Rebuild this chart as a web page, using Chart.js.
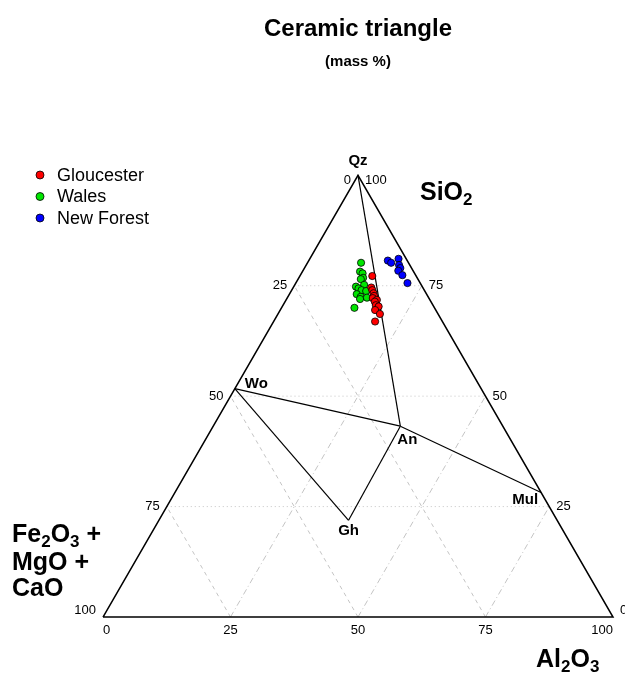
<!DOCTYPE html>
<html>
<head>
<meta charset="utf-8">
<script src="https://cdn.jsdelivr.net/npm/chart.js@4.4.0/dist/chart.umd.min.js"></script>
<style>
  body { margin: 0; background: #fff; }
  canvas { display: block; }
</style>
</head>
<body>
<canvas id="ternaryChart" width="625" height="677"></canvas>
<script>
// Sample compositions, mass % (the third component is the remainder: Fe2O3 + MgO + CaO)
const groups = ['Gloucester', 'Wales', 'New Forest'];
const groupColors = ['#ff0000', '#00e600', '#0000ff'];

const gloucesterSiO2 = [77.2, 74.6, 74.0, 73.3, 72.7, 72.2, 71.8, 71.4, 70.6, 70.3, 69.5, 68.6, 66.9];
const gloucesterAl2O3 = [14.2, 15.3, 15.8, 16.4, 16.8, 16.8, 17.8, 17.6, 18.2, 18.9, 18.6, 20.0, 19.9];

const walesSiO2 = [80.2, 78.2, 77.8, 76.8, 76.5, 75.2, 74.8, 74.4, 74.0, 73.8, 73.1, 72.5, 72.3, 72.0, 70.0];
const walesAl2O3 = [10.5, 11.3, 12.0, 12.6, 12.3, 13.6, 12.2, 12.9, 13.7, 14.7, 13.2, 14.3, 15.6, 14.4, 14.3];

const newForestSiO2 = [80.7, 80.2, 81.1, 79.7, 79.0, 78.4, 77.4, 75.6];
const newForestAl2O3 = [15.5, 16.4, 17.4, 18.2, 18.8, 18.7, 20.0, 21.9];

// Reference minerals
const minerals = ['Qz', 'Wo', 'An', 'Gh', 'Mul'];
const mineralSiO2 = [100, 51.7, 43.2, 21.9, 28.2];
const mineralAl2O3 = [0, 0, 36.7, 37.2, 71.8];
const tieLines = [['Qz', 'An'], ['Wo', 'An'], ['An', 'Mul'], ['Wo', 'Gh'], ['Gh', 'An']];

const tickValues = [0, 25, 50, 75, 100];
const gridValues = [25, 50, 75];

// ternary (SiO2, Al2O3) -> cartesian, side = 1
function toXY(si, al) {
  return { x: al / 100 + si / 200, y: (si / 100) * Math.sqrt(3) / 2 };
}

const triangle = [toXY(0, 0), toXY(0, 100), toXY(100, 0), toXY(0, 0)];

const datasets = [];

gridValues.forEach(v => {
  // constant SiO2 (horizontal, dotted)
  datasets.push({ data: [toXY(v, 0), toXY(v, 100 - v)], borderDash: [1, 3] });
  // constant Al2O3 (up to the right)
  datasets.push({ data: [toXY(0, v), toXY(100 - v, v)], borderDash: [6, 3, 1, 3] });
  // constant flux (up to the left)
  datasets.push({ data: [toXY(0, v), toXY(v, 0)], borderDash: [4, 4] });
});
datasets.forEach(d => {
  Object.assign(d, { showLine: true, borderColor: '#c4c4c4', borderWidth: 1, pointRadius: 0, order: 4 });
});

datasets.push({
  data: triangle, showLine: true, borderColor: '#000', borderWidth: 1.5, pointRadius: 0, order: 3
});

tieLines.forEach(([a, b]) => {
  const i = minerals.indexOf(a), j = minerals.indexOf(b);
  datasets.push({
    data: [toXY(mineralSiO2[i], mineralAl2O3[i]), toXY(mineralSiO2[j], mineralAl2O3[j])],
    showLine: true, borderColor: '#000', borderWidth: 1.2, pointRadius: 0, order: 2
  });
});

const groupSi = [gloucesterSiO2, walesSiO2, newForestSiO2];
const groupAl = [gloucesterAl2O3, walesAl2O3, newForestAl2O3];
groups.forEach((g, k) => {
  datasets.push({
    label: g,
    data: groupSi[k].map((si, i) => toXY(si, groupAl[k][i])),
    backgroundColor: groupColors[k],
    borderColor: '#000',
    borderWidth: 0.8,
    pointRadius: 3.6,
    showLine: false,
    order: 1
  });
});

const FONT = '"Liberation Sans", Arial, Helvetica, sans-serif';

// text with subscripts, parts like ['Fe', '_2', 'O', '_3', ' +']
function drawChem(ctx, parts, x, y, size) {
  let cx = x;
  parts.forEach(p => {
    const sub = p.startsWith('_');
    const t = sub ? p.slice(1) : p;
    ctx.font = 'bold ' + (sub ? Math.round(size * 0.68) : size) + 'px ' + FONT;
    ctx.fillText(t, cx, sub ? y + size * 0.28 : y);
    cx += ctx.measureText(t).width;
  });
}

const ternaryText = {
  id: 'ternaryText',
  afterDraw(chart) {
    const ctx = chart.ctx;
    const xs = chart.scales.x, ys = chart.scales.y;
    const pix = (si, al) => {
      const p = toXY(si, al);
      return [xs.getPixelForValue(p.x), ys.getPixelForValue(p.y)];
    };
    ctx.save();
    ctx.fillStyle = '#000';

    // titles
    ctx.textAlign = 'center';
    ctx.textBaseline = 'middle';
    ctx.font = 'bold 24px ' + FONT;
    ctx.fillText('Ceramic triangle', 358, 29);
    ctx.font = 'bold 15px ' + FONT;
    ctx.fillText('(mass %)', 358, 62);

    // tick labels
    ctx.font = '13px ' + FONT;
    tickValues.forEach(v => {
      // bottom: Al2O3
      let [x, y] = pix(0, v);
      ctx.textAlign = v === 0 ? 'left' : v === 100 ? 'right' : 'center';
      ctx.fillText(String(v), x, y + 13);
      // left edge
      [x, y] = pix(100 - v, 0);
      ctx.textAlign = 'right';
      ctx.fillText(String(v), x - 7, y + (v === 0 ? 5 : v === 100 ? -7 : 0));
      // right edge: SiO2
      [x, y] = pix(v, 100 - v);
      ctx.textAlign = 'left';
      ctx.fillText(String(v), x + 7, y + (v === 100 ? 5 : v === 0 ? -7 : 0));
    });

    // mineral labels
    ctx.font = 'bold 15px ' + FONT;
    const offs = { Qz: [0, -14, 'center'], Wo: [10, -5, 'left'], An: [7, 14, 'center'], Gh: [0, 11, 'center'], Mul: [-3, 7, 'right'] };
    minerals.forEach((m, i) => {
      const [x, y] = pix(mineralSiO2[i], mineralAl2O3[i]);
      const o = offs[m];
      ctx.textAlign = o[2];
      ctx.fillText(m, x + o[0], y + o[1]);
    });

    // apex labels
    ctx.textAlign = 'left';
    drawChem(ctx, ['SiO', '_2'], 420, 193, 25);
    drawChem(ctx, ['Al', '_2', 'O', '_3'], 536, 660, 25);
    drawChem(ctx, ['Fe', '_2', 'O', '_3', ' +'], 12, 535, 25);
    drawChem(ctx, ['MgO +'], 12, 563, 25);
    drawChem(ctx, ['CaO'], 12, 589, 25);

    // legend
    groups.forEach((g, k) => {
      const y = 175 + k * 21.5;
      ctx.fillStyle = groupColors[k];
      ctx.strokeStyle = '#000';
      ctx.lineWidth = 0.8;
      Chart.helpers.drawPoint(ctx, { pointStyle: 'circle', radius: 4, borderWidth: 0.8 }, 40, y);
      ctx.fillStyle = '#000';
      ctx.font = '18px ' + FONT;
      ctx.textAlign = 'left';
      ctx.fillText(g, 57, y + 1);
    });
    ctx.restore();
  }
};

const ctx = document.getElementById('ternaryChart');
new Chart(ctx.getContext('2d'), {
  type: 'scatter',
  data: { datasets: datasets },
  options: {
    responsive: false,
    animation: false,
    devicePixelRatio: 1,
    layout: { padding: 0, autoPadding: false },
    scales: {
      x: { type: 'linear', min: -103 / 510, max: 522 / 510, display: false },
      y: { type: 'linear', min: -60 / 510, max: 617 / 510, display: false }
    },
    plugins: {
      legend: { display: false },
      tooltip: { enabled: false },
      title: { display: false }
    }
  },
  plugins: [ternaryText]
});
</script>
</body>
</html>
